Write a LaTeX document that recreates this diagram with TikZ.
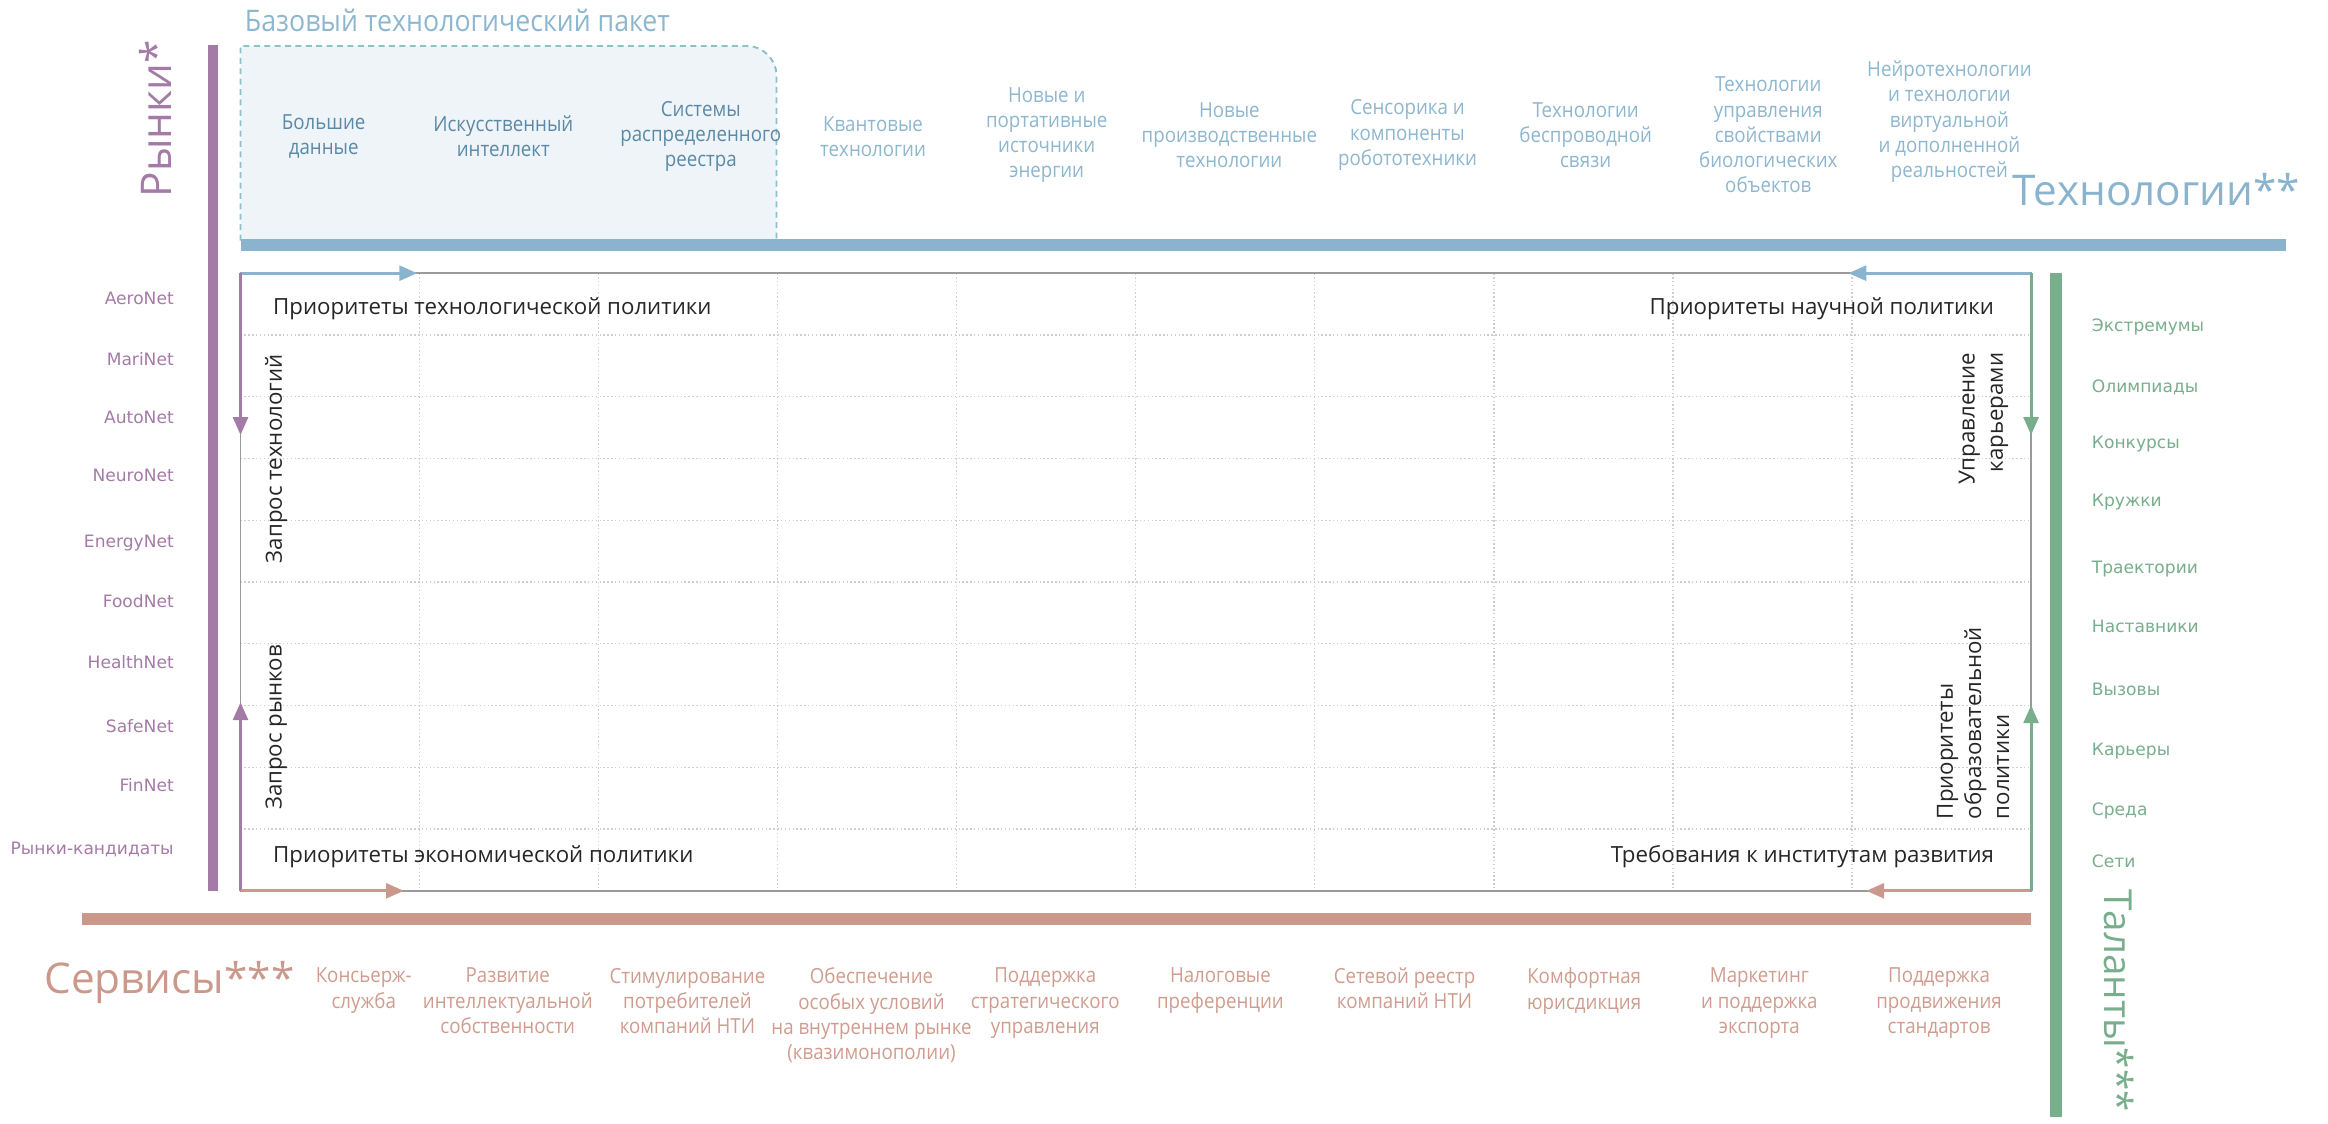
\documentclass[tikz,border=0pt]{standalone}
\usepackage{fontspec}
\setmainfont{Open Sans}
\newfontfamily\cnd[FakeStretch=0.9]{Open Sans}
\newfontfamily\wde{DejaVu Sans}
\usetikzlibrary{arrows.meta}
\definecolor{cblue}{HTML}{8AB4CE}
\definecolor{cbluetxt}{HTML}{8DB6CF}
\definecolor{cbluedark}{HTML}{5B89A8}
\definecolor{cpurple}{HTML}{A47BA6}
\definecolor{cgreen}{HTML}{78AE8C}
\definecolor{csalmon}{HTML}{CA998C}
\definecolor{csalmontxt}{HTML}{CF9C8E}
\definecolor{cboxfill}{HTML}{EEF4F7}
\definecolor{cboxedge}{HTML}{8CC0CB}
\definecolor{cgrid}{HTML}{CFCFCF}
\definecolor{cborder}{HTML}{9A9A9A}
\definecolor{cpol}{HTML}{262626}
\tikzset{
  lbl/.style={inner sep=0pt, outer sep=0pt},
  techlbl/.style={lbl, font=\cnd\fontsize{14}{17}\selectfont, text=cbluetxt, align=center},
  innerlbl/.style={techlbl, text=cbluedark},
  svclbl/.style={lbl, font=\cnd\fontsize{14}{17}\selectfont, text=csalmontxt, align=center, anchor=north},
  mktlbl/.style={lbl, font=\wde\fontsize{11.5}{14}\selectfont, text=cpurple, anchor=east},
  tallbl/.style={lbl, font=\wde\fontsize{11.5}{14}\selectfont, text=cgreen, anchor=west},
  pollbl/.style={lbl, font=\fontsize{15}{19}\selectfont, text=cpol},
  biglbl/.style={lbl, font=\fontsize{28.5}{34}\selectfont},
  gridline/.style={cgrid, line width=0.8pt, dash pattern=on 1pt off 1.6pt},
  frameline/.style={cborder, line width=1pt},
  arr/.style={line width=2pt, -{Triangle[length=12pt,width=10pt]}},
}
\begin{document}
\begin{tikzpicture}[x=1pt,y=-1pt]
\useasboundingbox (0,0) rectangle (1568,757);
% base technology package box
\fill[cboxfill] (162,162) -- (162,31) -- (503,31) .. controls (514,31) and (523,40) .. (523,51) -- (523,162) -- cycle;
\draw[cboxedge, line width=1.3pt, dash pattern=on 4pt off 3pt] (162,162) -- (162,31) -- (503,31) .. controls (514,31) and (523,40) .. (523,51) -- (523,162);
\node[lbl, anchor=west, font=\cnd\fontsize{20}{24}\selectfont, text=cbluetxt] (title) at (165,14) {Базовый технологический пакет};
% bars
\fill[cblue] (162,161) rectangle (1540,169);
\fill[cpurple] (140,30) rectangle (147,600);
\fill[cgreen] (1381,184) rectangle (1389,752);
\fill[csalmon] (55,615) rectangle (1368,623);
% grid
\foreach \k in {1,...,9} {
  \draw[gridline] ({162+\k*120.6},184) -- ({162+\k*120.6},600);
  \draw[gridline] (162,{184+\k*41.6}) -- (1368,{184+\k*41.6});
}
% frame
\coordinate (TL) at (162,184);
\coordinate (TR) at (1368,184);
\coordinate (BL) at (162,600);
\coordinate (BR) at (1368,600);
\draw[frameline] (TL) -- (TR) -- (BR) -- (BL) -- cycle;
% arrows
\coordinate (TLr) at (281,184);
\coordinate (TLd) at (162,293);
\coordinate (BLu) at (162,473);
\coordinate (BLr) at (272,600);
\coordinate (TRl) at (1245,184);
\coordinate (TRd) at (1368,293);
\coordinate (BRu) at (1368,475);
\coordinate (BRl) at (1257,600);
\draw[arr, cblue] (TL) -- (TLr);
\draw[arr, cblue] (TR) -- (TRl);
\draw[arr, cpurple] (TL) -- (TLd);
\draw[arr, cpurple] (BL) -- (BLu);
\draw[arr, csalmon] (BL) -- (BLr);
\draw[arr, csalmon] (BR) -- (BRl);
\draw[arr, cgreen] (TR) -- (TRd);
\draw[arr, cgreen] (BR) -- (BRu);
% technology labels
\node[innerlbl] (t1) at (218,92) {Большие\\данные};
\node[innerlbl] (t2) at (339,92) {Искусственный\\интеллект};
\node[innerlbl] (t3) at (472,92) {Системы\\распределенного\\реестра};
\node[techlbl] (t4) at (588,92) {Квантовые\\технологии};
\node[techlbl] (t5) at (705,91) {Новые и\\портативные\\источники\\энергии};
\node[techlbl] (t6) at (828,91) {Новые\\производственные\\технологии};
\node[techlbl] (t7) at (948,91) {Сенсорика и\\компоненты\\робототехники};
\node[techlbl] (t8) at (1068,91) {Технологии\\беспроводной\\связи};
\node[techlbl] (t9) at (1191,91) {Технологии\\управления\\свойствами\\биологических\\объектов};
\node[techlbl] (t10) at (1313,82) {Нейротехнологии\\и технологии\\виртуальной\\и дополненной\\реальностей};
% service labels
\node[svclbl] (s1) at (245,652) {Консьерж-\\служба};
\node[svclbl] (s2) at (342,652) {Развитие\\интеллектуальной\\собственности};
\node[svclbl] (s3) at (463,652) {Стимулирование\\потребителей\\компаний НТИ};
\node[svclbl] (s4) at (587,652) {Обеспечение\\особых условий\\на внутреннем рынке\\(квазимонополии)};
\node[svclbl] (s5) at (704,652) {Поддержка\\стратегического\\управления};
\node[svclbl] (s6) at (822,652) {Налоговые\\преференции};
\node[svclbl] (s7) at (946,652) {Сетевой реестр\\компаний НТИ};
\node[svclbl] (s8) at (1067,652) {Комфортная\\юрисдикция};
\node[svclbl] (s9) at (1185,652) {Маркетинг\\и поддержка\\экспорта};
\node[svclbl] (s10) at (1306,652) {Поддержка\\продвижения\\стандартов};
% market labels
\node[mktlbl] (m1) at (117,201) {AeroNet};
\node[mktlbl] (m2) at (117,242) {MariNet};
\node[mktlbl] (m3) at (117,281) {AutoNet};
\node[mktlbl] (m4) at (117,320) {NeuroNet};
\node[mktlbl] (m5) at (117,366) {EnergyNet};
\node[mktlbl] (m6) at (117,405) {FoodNet};
\node[mktlbl] (m7) at (117,446) {HealthNet};
\node[mktlbl] (m8) at (117,489) {SafeNet};
\node[mktlbl] (m9) at (117,529) {FinNet};
\node[mktlbl] (m10) at (117,572) {Рынки-кандидаты};
% talent labels
\node[tallbl] (g1) at (1409,220) {Экстремумы};
\node[tallbl] (g2) at (1409,261) {Олимпиады};
\node[tallbl] (g3) at (1409,299) {Конкурсы};
\node[tallbl] (g4) at (1409,338) {Кружки};
\node[tallbl] (g5) at (1409,383) {Траектории};
\node[tallbl] (g6) at (1409,422) {Наставники};
\node[tallbl] (g7) at (1409,464) {Вызовы};
\node[tallbl] (g8) at (1409,506) {Карьеры};
\node[tallbl] (g9) at (1409,546) {Среда};
\node[tallbl] (g10) at (1409,580) {Сети};
% policy labels
\node[pollbl, anchor=west] (p1) at (184,208) {Приоритеты технологической политики};
\node[pollbl, anchor=east] (p2) at (1343,208) {Приоритеты научной политики};
\node[pollbl, anchor=west] (p3) at (184,577) {Приоритеты экономической политики};
\node[pollbl, anchor=east] (p4) at (1343,577) {Требования к институтам развития};
\node[pollbl, rotate=90] (q1) at (186,309) {Запрос технологий};
\node[pollbl, rotate=90] (q2) at (186,490) {Запрос рынков};
\node[pollbl, rotate=90, align=right] (q3) at (1336,282) {Управление\\карьерами};
\node[pollbl, rotate=90, align=left] (q4) at (1329,487) {Приоритеты\\образовательной\\политики};
% big category labels
\node[biglbl, text=cpurple, rotate=90] (bigM) at (105,80) {Рынки*};
\node[biglbl, text=cblue, anchor=east] (bigT) at (1549,128) {Технологии**};
\node[biglbl, text=csalmon, anchor=west] (bigS) at (30,662) {Сервисы***};
\node[biglbl, text=cgreen, rotate=-90, anchor=west, font=\fontsize{26}{31}\selectfont] (bigG) at (1427,599) {Таланты***};
\end{tikzpicture}
\end{document}
